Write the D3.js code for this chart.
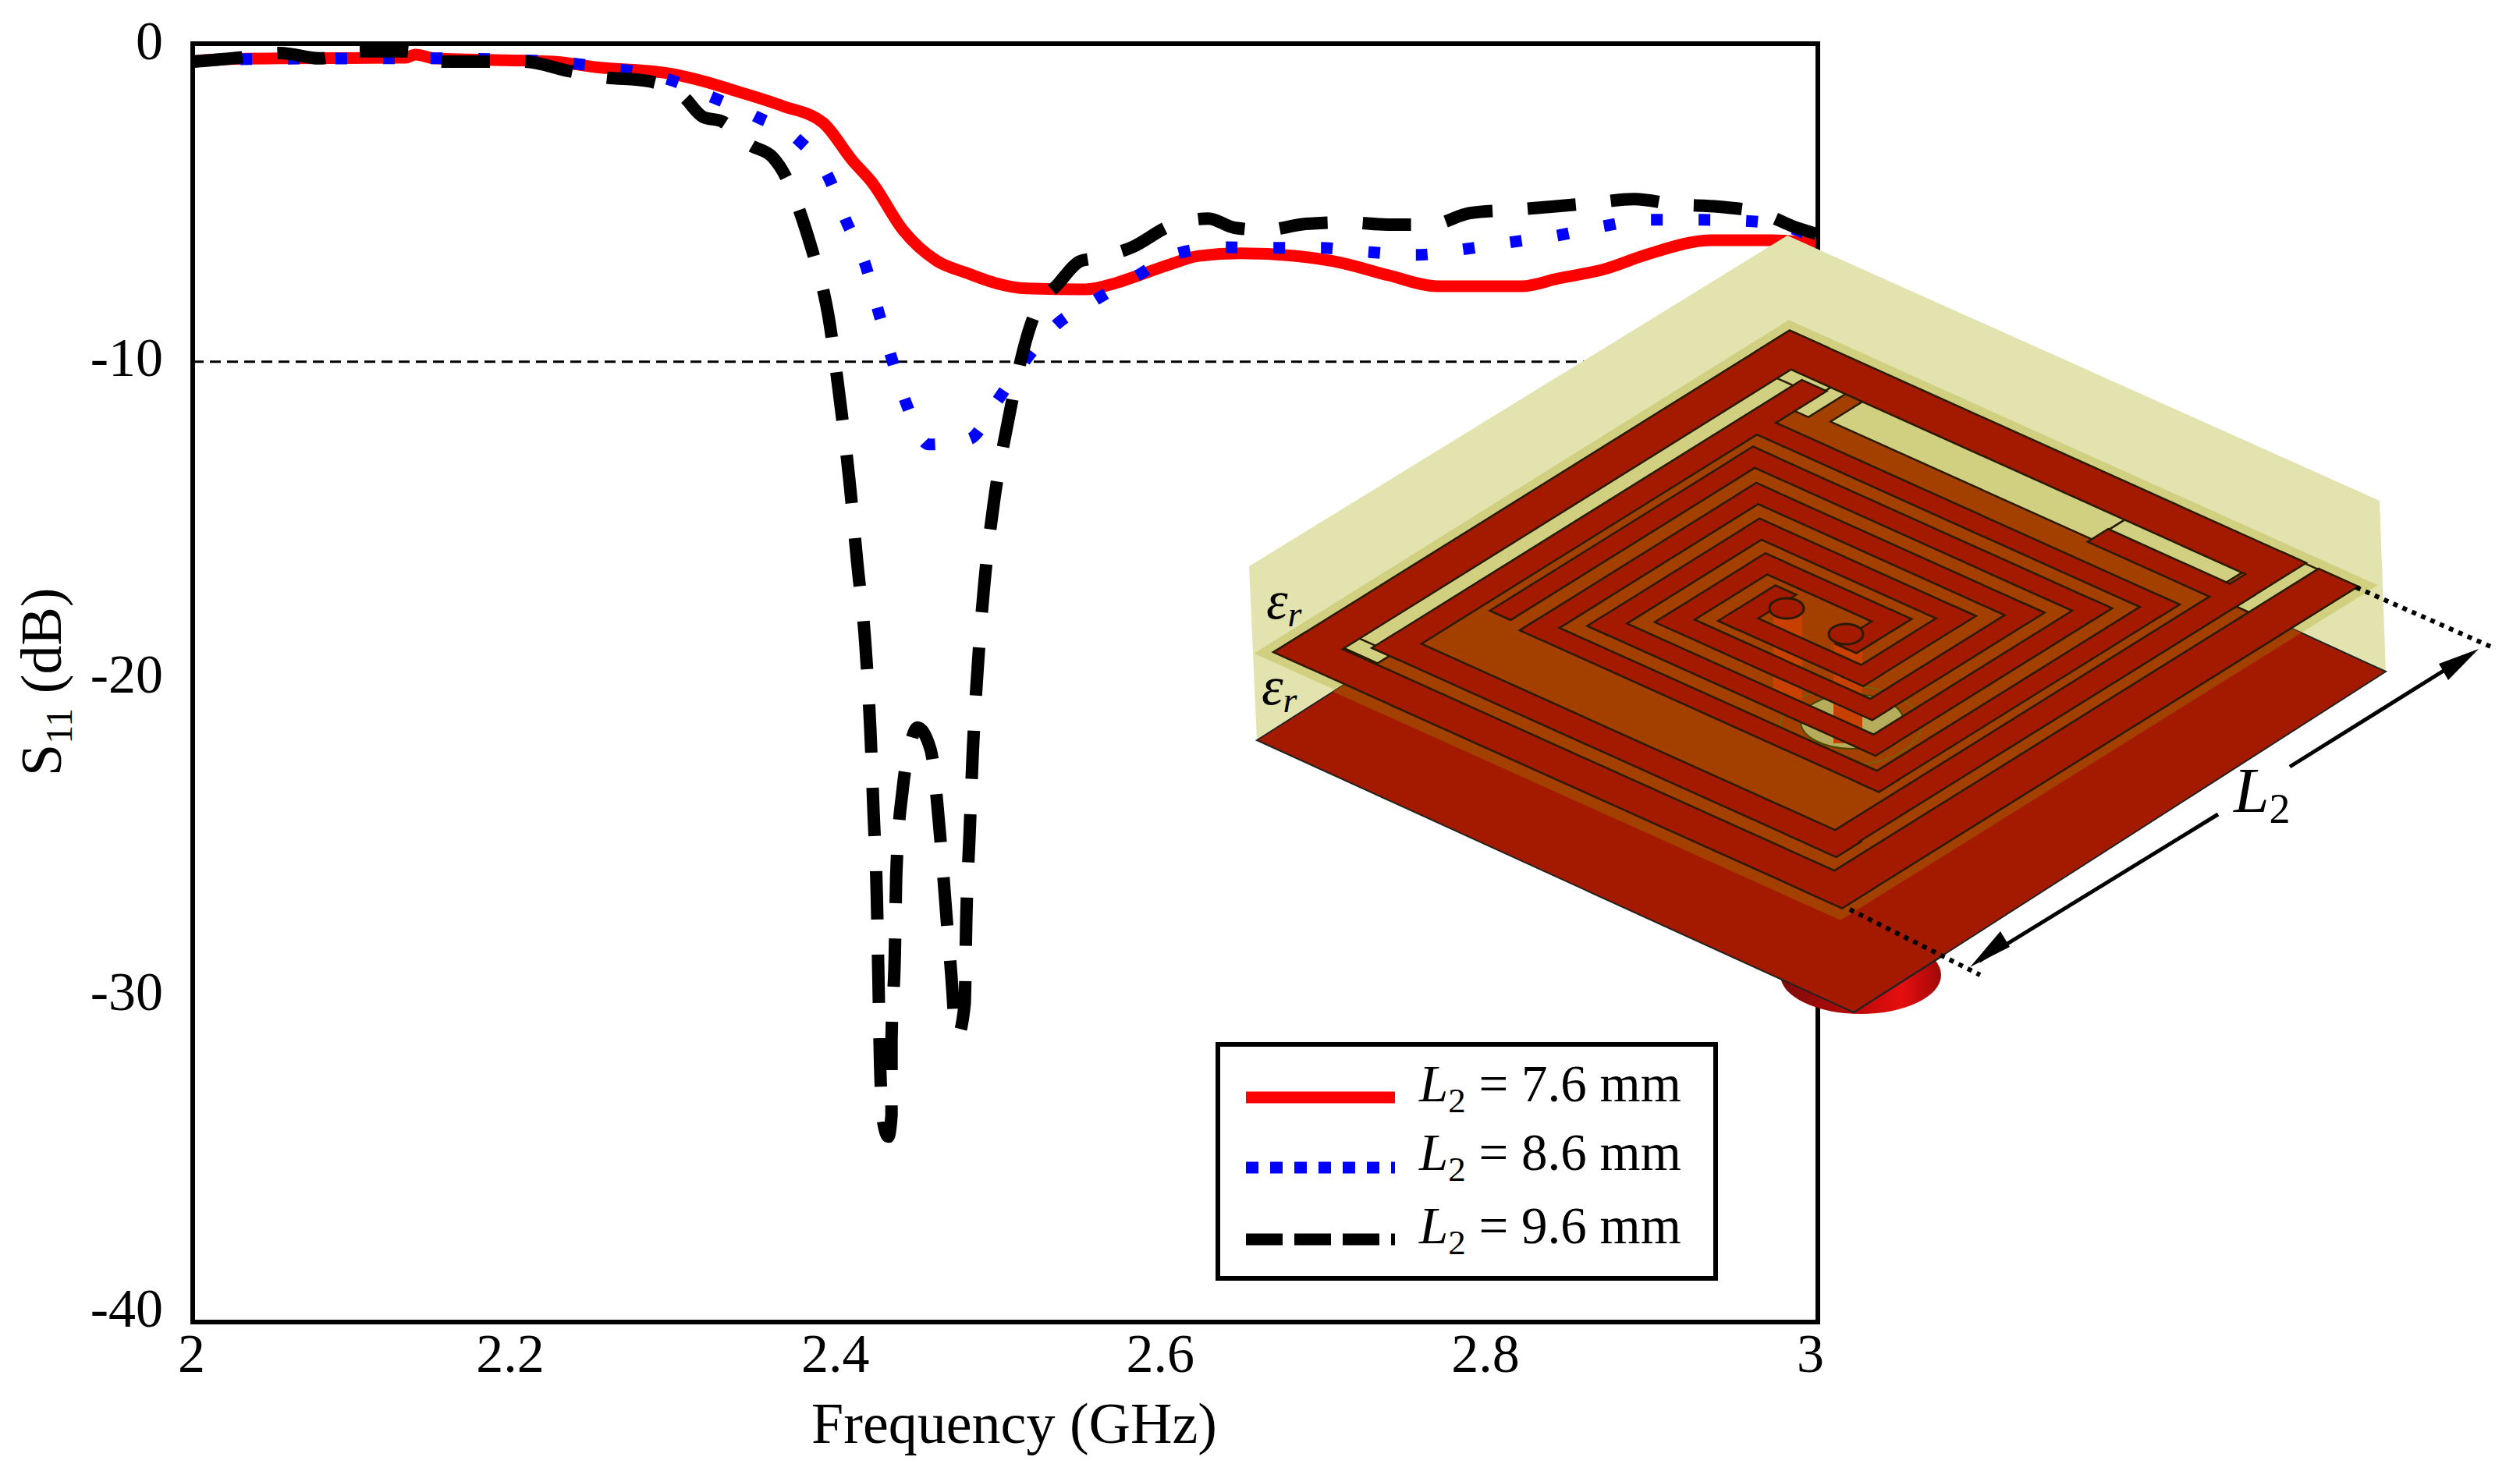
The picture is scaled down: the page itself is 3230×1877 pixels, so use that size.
<!DOCTYPE html>
<html>
<head>
<meta charset="utf-8">
<script src="https://cdnjs.cloudflare.com/ajax/libs/d3/7.8.5/d3.min.js"></script>
<style>
  body { margin: 0; background: #fff; }
  text { font-family: "Liberation Serif", serif; fill: #000; }
</style>
</head>
<body>
<div id="chart"></div>
<script>
// values
const xTicks = [2, 2.2, 2.4, 2.6, 2.8, 3];
const yTicks = [0, -10, -20, -30, -40];
const threshold = -10;

const freqRed = [2.0,2.008,2.054,2.131,2.137,2.149,2.222,2.247,2.293,2.314,2.333,2.363,2.388,2.406,2.418,2.437,2.458,2.476,2.494,2.513,2.549,2.568,2.582,2.604,2.619,2.645,2.678,2.707,2.736,2.766,2.818,2.84,2.869,2.894,2.935,2.972,3.0];
const s11Red = [-0.55,-0.51,-0.46,-0.44,-0.34,-0.46,-0.56,-0.73,-0.93,-1.17,-1.46,-1.95,-2.48,-3.66,-4.34,-5.83,-6.8,-7.17,-7.49,-7.66,-7.69,-7.49,-7.25,-6.86,-6.64,-6.56,-6.64,-6.86,-7.25,-7.59,-7.59,-7.35,-7.05,-6.61,-6.15,-6.15,-6.27];

const freqBlue = [2.0,2.05,2.13,2.15,2.22,2.25,2.293,2.32,2.347,2.373,2.391,2.402,2.414,2.422,2.43,2.439,2.453,2.478,2.495,2.512,2.531,2.555,2.58,2.606,2.635,2.665,2.694,2.724,2.753,2.781,2.81,2.84,2.868,2.896,2.925,2.954,2.983,2.998];
const s11Blue = [-0.55,-0.47,-0.46,-0.46,-0.56,-0.72,-1.12,-1.68,-2.29,-3.03,-4.15,-5.54,-6.93,-8.39,-9.83,-11.25,-12.54,-12.37,-11.18,-9.93,-8.81,-8.03,-7.3,-6.56,-6.37,-6.39,-6.39,-6.52,-6.61,-6.44,-6.22,-6.0,-5.71,-5.51,-5.51,-5.54,-5.76,-6.08];

const freqBlack = [2.001,2.028,2.054,2.078,2.103,2.131,2.154,2.181,2.204,2.231,2.253,2.28,2.302,2.314,2.326,2.343,2.357,2.365,2.373,2.382,2.388,2.391,2.398,2.404,2.409,2.414,2.417,2.419,2.421,2.422,2.423,2.425,2.428,2.43,2.43,2.432,2.433,2.437,2.441,2.446,2.454,2.46,2.464,2.468,2.469,2.471,2.475,2.476,2.478,2.48,2.483,2.487,2.493,2.502,2.512,2.518,2.533,2.546,2.553,2.578,2.601,2.625,2.641,2.66,2.685,2.711,2.735,2.762,2.786,2.812,2.836,2.862,2.887,2.913,2.939,2.965,2.987,2.999];
const s11Black = [-0.56,-0.44,-0.29,-0.46,-0.24,-0.24,-0.56,-0.56,-0.56,-0.85,-1.05,-1.17,-1.66,-2.29,-2.44,-3.17,-3.56,-4.17,-5.17,-6.61,-7.71,-8.47,-11.05,-13.62,-16.28,-18.86,-21.5,-24.11,-26.74,-29.38,-31.99,-33.77,-34.2,-33.53,-31.16,-28.57,-25.89,-23.28,-22.06,-21.4,-22.08,-24.84,-27.43,-30.06,-31.0,-31.0,-30.06,-27.43,-24.79,-22.18,-19.55,-16.96,-14.35,-11.74,-9.42,-8.47,-7.49,-6.81,-6.73,-6.37,-5.71,-5.47,-5.76,-5.83,-5.64,-5.59,-5.66,-5.66,-5.3,-5.2,-5.1,-4.98,-4.86,-5.03,-5.1,-5.3,-5.76,-5.95];

const seriesNames = ["7.6", "8.6", "9.6"];
const seriesColors = ["#ff0000", "#0000ff", "#000000"];

const width = 3230, height = 1877;
const svg = d3.select("#chart").append("svg")
  .attr("width", width)
  .attr("height", height)
  .style("display", "block");

const x = d3.scaleLinear().domain([2, 3]).range([247, 2330]);
const y = d3.scaleLinear().domain([-40, 0]).range([1695, 56]);

// threshold line
svg.append("line")
  .attr("x1", x(2)).attr("x2", x(3))
  .attr("y1", y(threshold) - 2).attr("y2", y(threshold) - 2)
  .attr("stroke", "#000").attr("stroke-width", 3)
  .attr("stroke-dasharray", "14 8");

// curves
const line = d3.line().x(d => x(d[0])).y(d => y(d[1])).curve(d3.curveMonotoneX);
const curves = [
  { f: freqRed, s: s11Red, w: 15, dash: null },
  { f: freqBlue, s: s11Blue, w: 15, dash: "15 46" },
  { f: freqBlack, s: s11Black, w: 16, dash: "62 45" }
];
curves.forEach((c, i) => {
  svg.append("path")
    .datum(d3.zip(c.f, c.s))
    .attr("d", line)
    .attr("fill", "none")
    .attr("stroke", seriesColors[i])
    .attr("stroke-width", c.w)
    .attr("stroke-dasharray", c.dash)
    .attr("stroke-linejoin", "round");
});

// frame
svg.append("rect")
  .attr("x", x(2)).attr("y", y(0))
  .attr("width", x(3) - x(2)).attr("height", y(-40) - y(0))
  .attr("fill", "none").attr("stroke", "#000").attr("stroke-width", 6);

// axes
const xAxis = svg.append("g")
  .attr("transform", "translate(0," + y(-40) + ")")
  .call(d3.axisBottom(x).tickValues(xTicks).tickSize(0).tickFormat(String));
xAxis.select(".domain").remove();
xAxis.selectAll("text")
  .attr("y", 64).attr("dy", 0)
  .attr("x", d => d === 2 ? -2 : -10)
  .attr("font-size", 70)
  .style("font-family", '"Liberation Serif", serif');

const yAxis = svg.append("g")
  .attr("transform", "translate(" + x(2) + ",0)")
  .call(d3.axisLeft(y).tickValues(yTicks).tickSize(0).tickFormat(String));
yAxis.select(".domain").remove();
yAxis.selectAll("text")
  .attr("x", -38).attr("dy", 0)
  .attr("y", d => 19 + d * 0.33)
  .attr("font-size", 70)
  .style("font-family", '"Liberation Serif", serif');

svg.append("text")
  .attr("x", 1300).attr("y", 1850)
  .attr("text-anchor", "middle")
  .attr("font-size", 74)
  .text("Frequency (GHz)");

const yLabel = svg.append("text")
  .attr("transform", "translate(78,995) rotate(-90)")
  .attr("font-size", 74);
yLabel.append("tspan").text("S");
yLabel.append("tspan").attr("font-size", 48).attr("dy", 14).text("11");
yLabel.append("tspan").attr("dy", -14).text(" (dB)");

// legend
const legend = svg.append("g");
legend.append("rect")
  .attr("x", 1561).attr("y", 1339)
  .attr("width", 638).attr("height", 300)
  .attr("fill", "#fff").attr("stroke", "#000").attr("stroke-width", 6);
const legendY = [1407, 1497, 1589];
const legendBase = [1412, 1500, 1594];
const legendDash = [null, "16 15", "47 15"];
seriesNames.forEach((name, i) => {
  legend.append("line")
    .attr("x1", 1597).attr("x2", 1788)
    .attr("y1", legendY[i]).attr("y2", legendY[i])
    .attr("stroke", seriesColors[i]).attr("stroke-width", 15)
    .attr("stroke-dasharray", legendDash[i]);
  const t = legend.append("text")
    .attr("x", 1819).attr("y", legendBase[i])
    .attr("font-size", 67);
  t.append("tspan").attr("font-style", "italic").text("L");
  t.append("tspan").attr("font-size", 45).attr("dy", 14).text("2");
  t.append("tspan").attr("dy", -14).text(" = " + name + " mm");
});

// antenna drawing
const P = ([a, b]) => [2327.5 + 726 * a - 659 * b, 794 + 327 * a + 411 * b];
const inset = svg.append("g");
const poly = pts => "M" + pts.map(p => p.join(",")).join("L") + "Z";
const box = (a0, b0, a1, b1) => [[a0, b0], [a1, b0], [a1, b1], [a0, b1]].map(P);

const clipId = "ground-clip";
const groundPts = [[1611, 949], [2297, 512], [3058, 861], [2376, 1298]];
const defs = svg.append("defs");
defs.append("clipPath").attr("id", clipId)
  .append("path").attr("d", poly(groundPts));
const grad = defs.append("linearGradient").attr("id", "pin-grad");
grad.append("stop").attr("offset", "0%").attr("stop-color", "#7d0c0c");
grad.append("stop").attr("offset", "45%").attr("stop-color", "#b80808");
grad.append("stop").attr("offset", "75%").attr("stop-color", "#e60f0f");
grad.append("stop").attr("offset", "100%").attr("stop-color", "#a00808");

inset.append("ellipse")
  .attr("cx", 2385).attr("cy", 1250).attr("rx", 103).attr("ry", 50)
  .attr("fill", "url(#pin-grad)");
inset.append("path")
  .attr("d", poly([[2291, 302], [3050, 642], [3058, 861], [2376, 1298], [1611, 949], [1601, 726]]))
  .attr("fill", "#e3e3b0");
inset.append("path")
  .attr("d", poly(box(-.52, -.52, .52, .52)))
  .attr("fill", "#d0d080");
inset.append("path")
  .attr("d", poly(groundPts))
  .attr("fill", "#a31a00").attr("stroke", "#222").attr("stroke-width", 2);
inset.append("path")
  .attr("d", poly(box(-.52, -.52, .52, .525)))
  .attr("fill", "#a34000")
  .attr("clip-path", "url(#" + clipId + ")");
// dark edge from the ground corner to the bottom
inset.append("path")
  .attr("d", "M2376,1298L2488,1227")
  .attr("stroke", "#222").attr("stroke-width", 2).attr("fill", "none");

// lower layer seen through the gaps
inset.append("path").attr("d", poly(box(-.5, -.5, .5, .5))).attr("fill", "#a34000");

// yellow gaps
const gaps = [
  [-.438, -.434, -.407, .437],
  [-.438, .407, -.377, .437],
  [-.438, -.434, -.35, -.405],
  [-.366, -.434, -.34, -.36],
  [-.31, -.434, .153, -.37],
  [.153, -.434, .36, -.4],
  [.408, -.5, .434, -.366]
];
gaps.forEach(g => {
  inset.append("path").attr("d", poly(box(...g))).attr("fill", "#d0d080")
    .attr("stroke", "#2a1a00").attr("stroke-width", 2.5);
});

// hole and feed pins
inset.append("ellipse")
  .attr("cx", 2374).attr("cy", 925).attr("rx", 66).attr("ry", 35)
  .attr("fill", "#b5ad5c").attr("stroke", "#4a4a00").attr("stroke-width", 2);
inset.append("ellipse")
  .attr("cx", 2372).attr("cy", 930).attr("rx", 90).attr("ry", 50)
  .attr("fill", "none").attr("stroke", "#6b6a10").attr("stroke-width", 1.5);
[[2273, 780, 37, 125], [2350, 815, 37, 138]].forEach(r => {
  inset.append("rect")
    .attr("x", r[0]).attr("y", r[1]).attr("width", r[2]).attr("height", r[3])
    .attr("fill", "#c84000");
});

// metal: spiral arms and outer ring, built from strips in patch coordinates
const armA = [[-.079, -.01], [-.079, .064], [.14, .064], [.14, -.118], [-.205, -.118], [-.205, .18], [.267, .18], [.267, -.243], [-.33, -.243], [-.33, .232]];
const armB = [[.079, .01], [.079, -.06], [-.142, -.06], [-.142, .118], [.205, .118], [.205, -.18], [-.267, -.18], [-.267, .243], [.33, .243], [.33, -.305], [-.385, -.305]];
const strips = (pts, w) => d3.pairs(pts).map(([p, q]) => [
  Math.min(p[0], q[0]) - w, Math.min(p[1], q[1]) - w,
  Math.max(p[0], q[0]) + w, Math.max(p[1], q[1]) + w
]);
const metal = [
  ...strips(armA, .0165),
  ...strips(armB, .0165),
  [-.406, -.42, -.366, .412],
  [-.406, .368, .41, .412],
  [.368, -.5, .408, .412],
  [.153, -.4, .408, -.364],
  [-.5, -.5, .404, -.434],
  [-.5, -.5, -.438, .5],
  [-.5, .442, .5, .5],
  [.434, -.5, .5, .5]
];
metal.forEach(m => {
  inset.append("path").attr("d", poly(box(...m)))
    .attr("fill", "#a31a00").attr("stroke", "#2a1a00").attr("stroke-width", 5);
});
metal.forEach(m => {
  inset.append("path").attr("d", poly(box(...m))).attr("fill", "#a31a00");
});
[[2290, 780], [2366, 813]].forEach(d => {
  inset.append("ellipse").attr("cx", d[0]).attr("cy", d[1]).attr("rx", 22).attr("ry", 13)
    .attr("fill", "#a31a00").attr("stroke", "#2a1a00").attr("stroke-width", 3);
});

// dimension lines
const dotted = [[3020, 753, 3197, 831], [2371, 1166, 2538, 1250]];
dotted.forEach(d => {
  inset.append("line")
    .attr("x1", d[0]).attr("y1", d[1]).attr("x2", d[2]).attr("y2", d[3])
    .attr("stroke", "#000").attr("stroke-width", 6).attr("stroke-dasharray", "6 7");
});
const shafts = [[2537, 1232, 2843, 1044], [2935, 983, 3164, 840]];
shafts.forEach(d => {
  inset.append("line")
    .attr("x1", d[0]).attr("y1", d[1]).attr("x2", d[2]).attr("y2", d[3])
    .attr("stroke", "#000").attr("stroke-width", 5);
});
inset.append("path").attr("d", poly([[2525, 1240], [2564, 1194], [2576, 1214]])).attr("fill", "#000");
inset.append("path").attr("d", poly([[3177, 832], [3126, 851], [3138, 872]])).attr("fill", "#000");

const l2 = inset.append("text").attr("x", 2863).attr("y", 1041).attr("font-size", 82);
l2.append("tspan").attr("font-style", "italic").text("L");
l2.append("tspan").attr("font-size", 54).attr("dy", 14).text("2");

[[1623, 793], [1617, 903]].forEach(p => {
  const t = inset.append("text").attr("x", p[0]).attr("y", p[1]).attr("font-size", 70).attr("font-style", "italic");
  t.append("tspan").text("\u03B5");
  t.append("tspan").attr("font-size", 46).attr("dy", 10).text("r");
});
</script>
</body>
</html>
